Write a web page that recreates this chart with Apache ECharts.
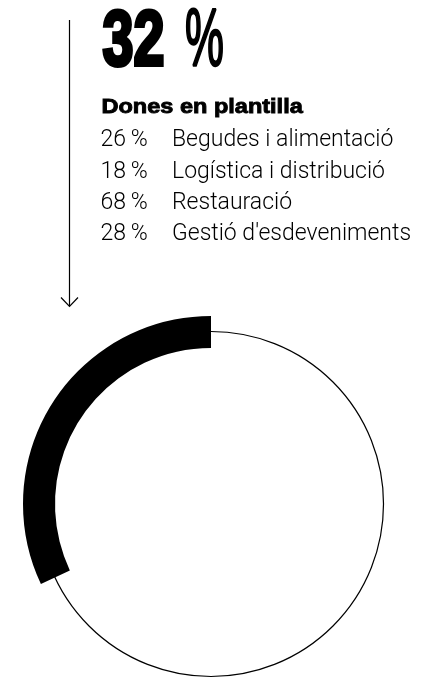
<!DOCTYPE html>
<html>
<head>
<meta charset="utf-8">
<script src="https://cdn.jsdelivr.net/npm/echarts@6/dist/echarts.min.js"></script>
<style>
html,body{margin:0;padding:0;background:#fff;}
#chart{width:426px;height:679px;}
</style>
</head>
<body>
<div id="chart"></div>
<script>
// ---- data ----
var headlineValue = 32;
var headlineLabel = 'Dones en plantilla';
var sectorNames = ['Begudes i alimentació', 'Logística i distribució', 'Restauració', "Gestió d'esdeveniments"];
var sectorValues = [26, 18, 68, 28];
var ringValues = [headlineValue, 100 - headlineValue];

var chart = echarts.init(document.getElementById('chart'), null, {renderer: 'canvas'});

var graphics = [];
// headline number
graphics.push({
  type: 'text', x: 102.5, y: 43.5, scaleX: 0.715,
  style: {text: String(headlineValue), fontFamily: 'Liberation Sans', fontWeight: 'bold', fontSize: 78,
          fill: '#000', stroke: '#000', lineWidth: 4, align: 'left', verticalAlign: 'middle'}
});
graphics.push({
  type: 'text', x: 185, y: 43.5, scaleX: 0.54,
  style: {text: '%', fontFamily: 'Liberation Sans', fontWeight: 'normal', fontSize: 81,
          fill: '#000', stroke: '#000', lineWidth: 2.4, align: 'left', verticalAlign: 'middle'}
});
graphics.push({
  type: 'text', x: 101.5, y: 107.5, scaleX: 1.12,
  style: {text: headlineLabel, fontFamily: 'Liberation Sans', fontWeight: 'bold', fontSize: 21,
          fill: '#000', stroke: '#000', lineWidth: 0.9, align: 'left', verticalAlign: 'middle'}
});
var rowY = [140.3, 172, 203.4, 234.7];
for (var i = 0; i < sectorNames.length; i++) {
  graphics.push({
    type: 'text', x: 100.5, y: rowY[i],
    style: {text: sectorValues[i] + '\u2009%', fontFamily: 'Roboto', fontWeight: 300, fontSize: 23,
            fill: '#000', align: 'left', verticalAlign: 'middle'}
  });
  graphics.push({
    type: 'text', x: 172, y: rowY[i],
    style: {text: sectorNames[i], fontFamily: 'Roboto', fontWeight: 300, fontSize: 23,
            fill: '#000', align: 'left', verticalAlign: 'middle'}
  });
}
// arrow
graphics.push({
  type: 'line', shape: {x1: 69.5, y1: 20, x2: 69.5, y2: 306},
  style: {stroke: '#000', lineWidth: 1.2}
});
graphics.push({
  type: 'polyline', shape: {points: [[61, 297.5], [69.5, 306.5], [78, 297.5]]},
  style: {stroke: '#000', lineWidth: 1.2, fill: null}
});

chart.setOption({
  backgroundColor: '#fff',
  animation: false,
  graphic: graphics,
  series: [
    {
      type: 'pie', silent: true, center: [211, 504], radius: [0, 172.5],
      label: {show: false}, labelLine: {show: false}, emphasis: {disabled: true},
      itemStyle: {color: 'rgba(0,0,0,0)', borderColor: '#000', borderWidth: 1.2},
      data: [{value: 100, name: 'total'}]
    },
    {
      type: 'pie', silent: true, center: [211, 504], radius: [156, 188],
      startAngle: 90, clockwise: false,
      label: {show: false}, labelLine: {show: false}, emphasis: {disabled: true},
      data: [
        {value: ringValues[0], name: headlineLabel, itemStyle: {color: '#000'}},
        {value: ringValues[1], name: 'rest', itemStyle: {color: 'rgba(0,0,0,0)'}}
      ]
    }
  ]
});
</script>
</body>
</html>
